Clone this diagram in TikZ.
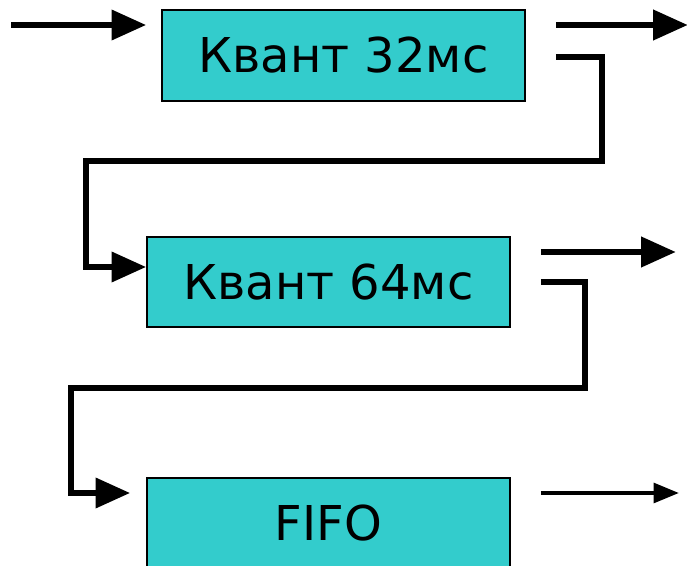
\documentclass[tikz,border=0pt]{standalone}
\usepackage{fontspec}
\setmainfont{DejaVu Sans}
\usepackage{tikz}
\usetikzlibrary{positioning,arrows.meta,calc}
\definecolor{ink}  {HTML}{000000}
\definecolor{teal} {HTML}{33CCCC}
\tikzset{
  every node/.style={font=\fontsize{36}{40}\selectfont},
  % --- nodes
  queue/.style = {draw=ink, fill=teal, line width=1.5pt, inner sep=0pt,
                  minimum width=272pt, minimum height=68pt, text=ink},
  % --- edges
  e/.style     = {-{Triangle[length=26pt 0 0,width=22pt 0 0]}, line width=4.5pt, draw=ink},
  ethin/.style = {-{Triangle[length=19pt 0 0,width=15pt 0 0]}, line width=2.4pt, draw=ink},
}
\begin{document}
\begin{tikzpicture}[x=0.75pt,y=-0.75pt]
  \useasboundingbox (0,0) rectangle (687,566);

  % queues
  \node[queue] (q32)  at (343.5,55.5) {Квант 32мс};
  \node[queue] (q64)  at (328.5,282)  {Квант 64мс};
  \node[queue] (fifo) at (328.5,523.5) {FIFO};

  % free ends
  \coordinate (in)    at ($(q32.west)+(-150,-30.5)$);
  \coordinate (in32)  at ($(q32.west)+(-15,-30.5)$);
  \coordinate (out32) at ($(q32.east)+(30,-30.5)$);
  \coordinate (end32) at ($(q32.east)+(162,-30.5)$);
  \coordinate (dn32)  at ($(q32.east)+(30,1.5)$);
  \coordinate (out64) at ($(q64.east)+(30,-30)$);
  \coordinate (end64) at ($(q64.east)+(165,-30)$);
  \coordinate (dn64)  at ($(q64.east)+(30,0)$);
  \coordinate (in64)  at ($(q64.west)+(0,-15)$);
  \coordinate (infifo) at ($(fifo.west)+(-16,-30.5)$);
  \coordinate (outff) at ($(fifo.east)+(30,-30.5)$);
  \coordinate (endff) at ($(fifo.east)+(168,-30.5)$);

  % input and outputs
  \draw[e] (in) -- (in32);
  \draw[e] (out32) -- (end32);
  \draw[e] (out64) -- (end64);
  \draw[ethin] (outff) -- (endff);

  % demotion
  \draw[e] (dn32) -- ++(46,0) |- (86,161) |- (in64);
  \draw[e] (dn64) -- ++(44,0) |- (71,388) |- (infifo);
\end{tikzpicture}
\end{document}
